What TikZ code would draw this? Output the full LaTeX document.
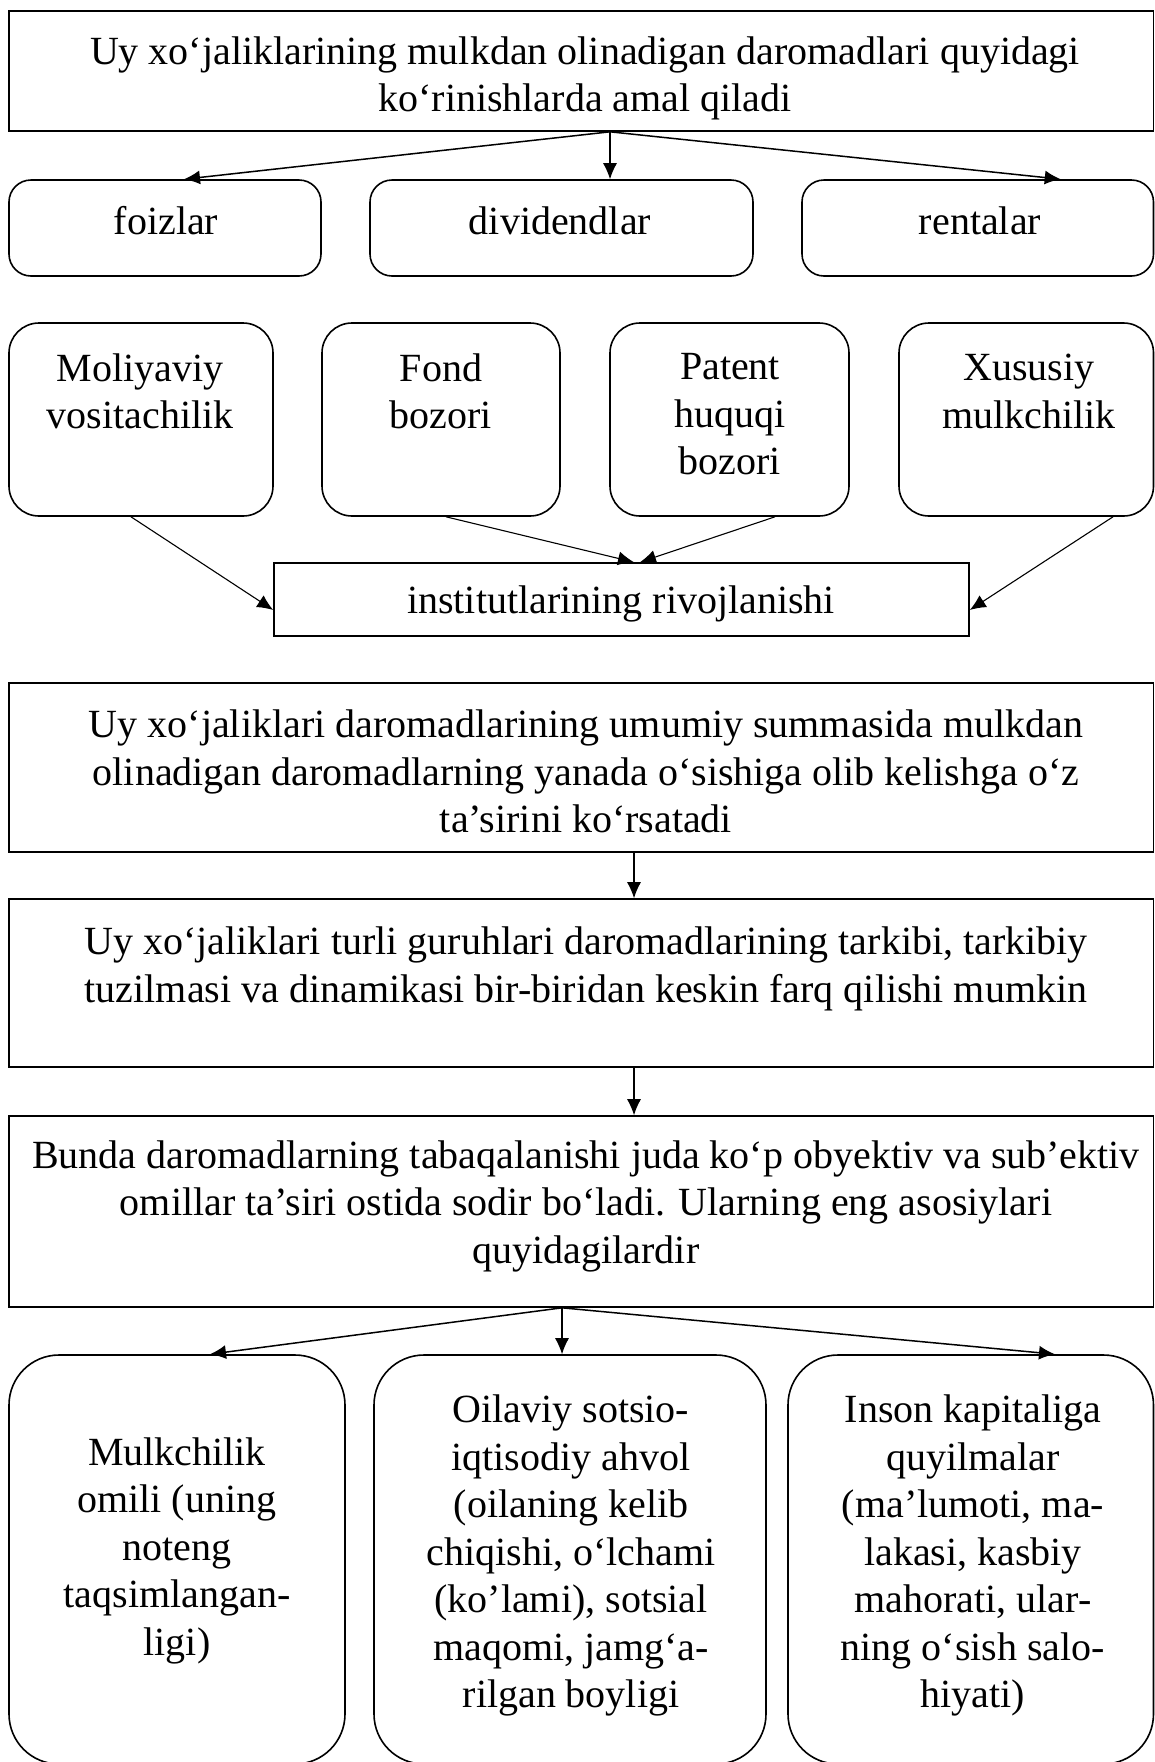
\documentclass[tikz,border=0pt]{standalone}
\usepackage{fontspec}
\setmainfont{Liberation Serif}
\usetikzlibrary{arrows.meta}

\begin{document}
\begin{tikzpicture}[x=1pt,y=-1pt,
   box/.style={draw,line width=1.6pt,inner sep=0pt},
   rbox/.style={box,rounded corners=#1},
   txt/.style={align=center,inner sep=0pt,font=\fontsize{40}{47.5}\selectfont},
   arr/.style={-{Latex[length=16pt,width=14pt]},line width=#1}]

   \fill[white] (0,0) rectangle (1155,1762);
   \useasboundingbox (0,0) rectangle (1155,1762);

   % yuqori blok
   \node (top) [box,minimum width=1144.5,minimum height=120] at (581.25,71) {};
   \node (ttop) [txt] at (585,78.5) {Uy xo‘jaliklarining mulkdan olinadigan daromadlari  quyidagi\\ko‘rinishlarda amal qiladi};

   \node (foiz) [rbox=22pt,minimum width=312,minimum height=96] at (165,228) {};
   \node (div)  [rbox=22pt,minimum width=383,minimum height=96] at (561.5,228) {};
   \node (rent) [rbox=22pt,minimum width=351.5,minimum height=96] at (977.75,228) {};
   \node (tfoiz) [txt] at (166,220.5) {foizlar};
   \node (tdiv)  [txt] at (560,220.5) {dividendlar};
   \node (trent) [txt] at (980,220.5) {rentalar};

   \draw[arr=1.5pt] ([xshift=28.75pt]top.south) -- ([xshift=19pt]foiz.north);
   \draw[arr=1.1pt] ([xshift=28.75pt]top.south) -- ([xshift=48.5pt]div.north);
   \draw[arr=1.5pt] ([xshift=28.75pt]top.south) -- ([xshift=83pt]rent.north);

   % institutlar
   \node (mol) [rbox=30pt,minimum width=264,minimum height=193] at (141,419.5) {};
   \node (fond) [rbox=30pt,minimum width=238,minimum height=193] at (441,419.5) {};
   \node (pat) [rbox=30pt,minimum width=239,minimum height=193] at (729.5,419.5) {};
   \node (xus) [rbox=30pt,minimum width=254.5,minimum height=193] at (1026.25,419.5) {};
   \node (tmol)  [txt] at (140,391.5) {Moliyaviy\\vositachilik};
   \node (tfond) [txt] at (441,391.5) {Fond\\bozori};
   \node (tpat)  [txt] at (730,414.5) {Patent\\huquqi\\bozori};
   \node (txus)  [txt] at (1029,391.5) {Xususiy\\mulkchilik};

   \node (inst) [box,minimum width=695,minimum height=73] at (621.5,599.5) {};
   \node (tinst) [txt] at (621,604) {institutlarining rivojlanishi};

   \draw[arr=1.1pt] ([xshift=-10pt]mol.south) -- ([yshift=-10.5pt]inst.west);
   \draw[arr=1.1pt] ([xshift=5pt]fond.south) -- ([xshift=12.5pt]inst.north);
   \draw[arr=1.1pt] ([xshift=45.5pt]pat.south) -- ([xshift=18.5pt]inst.north);
   \draw[arr=1.1pt] ([xshift=86.75pt]xus.south) -- ([yshift=-10.5pt]inst.east);

   % pastki bloklar
   \node (b4) [box,minimum width=1144.5,minimum height=169] at (581.25,767.5) {};
   \node (tb4) [txt] at (586,771.5) {Uy xo‘jaliklari daromadlarining umumiy summasida mulkdan\\olinadigan daromadlarning yanada o‘sishiga olib kelishga o‘z\\ta’sirini ko‘rsatadi};

   \node (b5) [box,minimum width=1144.5,minimum height=168] at (581.25,983) {};
   \node (tb5) [txt] at (586,969) {Uy xo‘jaliklari turli guruhlari daromadlarining tarkibi, tarkibiy\\tuzilmasi va dinamikasi bir-biridan keskin farq qilishi mumkin};

   \node (b6) [box,minimum width=1144.5,minimum height=191] at (581.25,1211.5) {};
   \node (tb6) [txt] at (586,1206) {Bunda daromadlarning tabaqalanishi juda ko‘p obyektiv va sub’ektiv\\omillar ta’siri ostida sodir bo‘ladi. Ularning eng asosiylari\\quyidagilardir};

   \draw[arr=1.1pt] ([xshift=52.75pt]b4.south) -- ([xshift=52.75pt]b5.north);
   \draw[arr=1.1pt] ([xshift=52.75pt]b5.south) -- ([xshift=52.75pt]b6.north);

   \node (mulk) [rbox=50pt,minimum width=336,minimum height=409] at (177,1559.5) {};
   \node (oila) [rbox=50pt,minimum width=392,minimum height=409] at (570,1559.5) {};
   \node (inson) [rbox=50pt,minimum width=365.5,minimum height=409] at (970.75,1559.5) {};
   \node (tmulk) [txt] at (177,1550.5) {Mulkchilik\\omili (uning\\noteng\\taqsimlangan-\\ligi)};
   \node (toila) [txt] at (571,1555.5) {Oilaviy sotsio-\\iqtisodiy ahvol\\(oilaning kelib\\chiqishi, o‘lchami\\(ko’lami), sotsial\\maqomi, jamg‘a-\\rilgan boyligi};
   \node (tinson) [txt] at (973,1555.5) {Inson kapitaliga\\quyilmalar\\(ma’lumoti, ma-\\lakasi, kasbiy\\mahorati, ular-\\ning o‘sish salo-\\hiyati)};

   \draw[arr=1.5pt] ([xshift=-19.25pt]b6.south) -- ([xshift=33pt]mulk.north);
   \draw[arr=1.1pt] ([xshift=-19.25pt]b6.south) -- ([xshift=-8pt]oila.north);
   \draw[arr=1.5pt] ([xshift=-19.25pt]b6.south) -- ([xshift=84.25pt]inson.north);
\end{tikzpicture}
\end{document}
